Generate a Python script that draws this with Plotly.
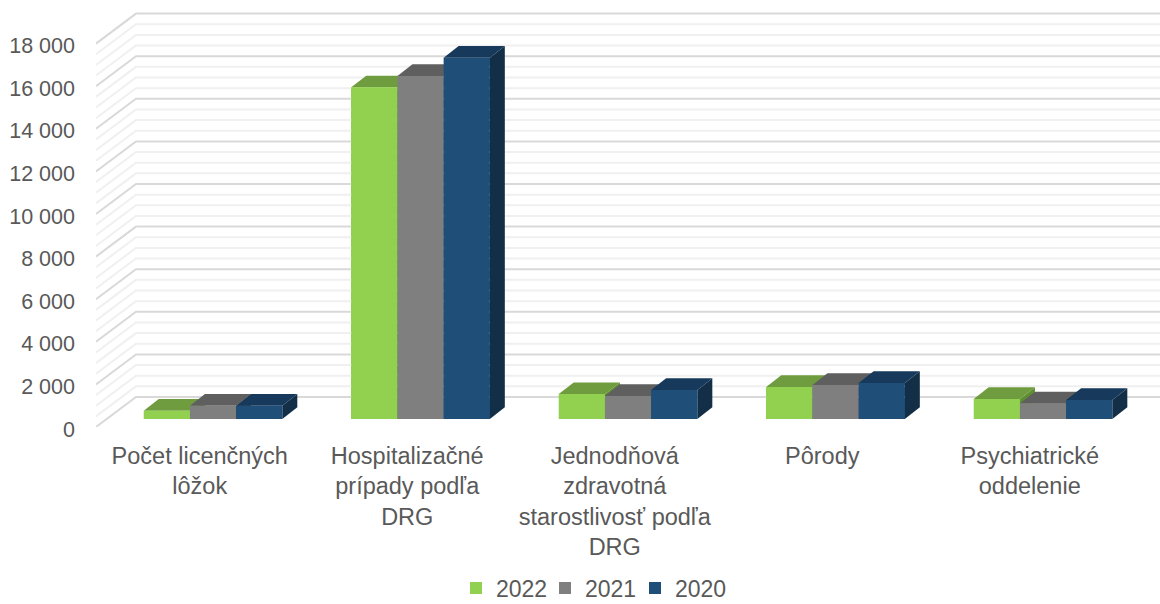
import plotly.graph_objects as go

categories = ["Počet licenčných<br>lôžok", "Hospitalizačné<br>prípady podľa<br>DRG",
              "Jednodňová<br>zdravotná<br>starostlivosť podľa<br>DRG", "Pôrody",
              "Psychiatrické<br>oddelenie"]
v2022 = [390, 15570, 1170, 1500, 940]
v2021 = [625, 16100, 1080, 1600, 735]
v2020 = [625, 16960, 1360, 1690, 890]
series_names = ["2022", "2021", "2020"]
y_major = [0, 2000, 4000, 6000, 8000, 10000, 12000, 14000, 16000, 18000]
y_labels = ["0", "2 000", "4 000", "6 000", "8 000", "10 000", "12 000", "14 000", "16 000", "18 000"]

W, H = 1160, 604
ML, MB = 96, 177
PX_PER_CAT = 207.5
PX_PER_VAL = 42.6 / 2000
PLOT_H = H - MB
X0, X1 = -0.5, -0.5 + (W - ML) / PX_PER_CAT
Y1 = PLOT_H / PX_PER_VAL

WALL_DX, WALL_DV = 40 / PX_PER_CAT, 30 / PX_PER_VAL
BAR_DX, BAR_DV = 15 / PX_PER_CAT, 11.7 / PX_PER_VAL
FLOOR = 8 / PX_PER_VAL
BAR_W = 46.2 / PX_PER_CAT
CENTER_SHIFT = 0.064

styles = [
    dict(front="#92D050", top="#6F9C3E", side="#5F8F30"),
    dict(front="#7F7F7F", top="#5F5F5F", side="#505050"),
    dict(front="#1F4E79", top="#17395B", side="#132F48"),
]
values = [v2022, v2021, v2020]
legend_ids = ["legend", "legend2", "legend3"]
legend_left_px = [456, 545, 635]

fig = go.Figure()


def grid(vals, color, width):
    xs, ys = [], []
    for v in vals:
        xs += [X0, X0 + WALL_DX, X1 + 1, None]
        ys += [v, v + WALL_DV, v + WALL_DV, None]
    fig.add_trace(go.Scatter(x=xs, y=ys, mode="lines", showlegend=False, hoverinfo="skip",
                             line=dict(color=color, width=width)))


minor = [m + k * 500 for m in y_major[:-1] for k in (1, 2, 3)]
grid(minor, "#F0F0F0", 2)
grid(y_major, "#D9D9D9", 2)

# real bars (front faces, legend)
for j, name in enumerate(series_names):
    fig.add_trace(go.Bar(
        x=[i + CENTER_SHIFT + (j - 1) * BAR_W for i in range(len(categories))],
        y=values[j], base=[FLOOR] * len(categories), width=BAR_W, name=name,
        legend=legend_ids[j], showlegend=True,
        marker=dict(color=styles[j]["front"], line=dict(width=0)),
        hoverinfo="skip"))


def poly(xs, ys, color):
    fig.add_trace(go.Scatter(x=xs + [xs[0]], y=ys + [ys[0]], mode="lines", fill="toself",
                             fillcolor=color, line=dict(width=0, color=color),
                             showlegend=False, hoverinfo="skip"))


# depth faces, painted left to right
for i in range(len(categories)):
    for j in range(3):
        v = values[j][i]
        xc = i + CENTER_SHIFT + (j - 1) * BAR_W
        xl, xr = xc - BAR_W / 2, xc + BAR_W / 2
        top = FLOOR + v
        poly([xr, xr + BAR_DX, xr + BAR_DX, xr],
             [FLOOR, FLOOR + BAR_DV, top + BAR_DV, top], styles[j]["side"])
        poly([xl, xl + BAR_DX, xr + BAR_DX, xr],
             [top, top + BAR_DV, top + BAR_DV, top], styles[j]["top"])
        poly([xl, xr, xr, xl], [FLOOR, FLOOR, top, top], styles[j]["front"])


def legend_at(left_px):
    return dict(orientation="h", x=(left_px - ML) / (W - ML), xanchor="left",
                y=(PLOT_H - 588) / PLOT_H, yanchor="middle",
                font=dict(size=23, color="#595959"), bgcolor="rgba(0,0,0,0)",
                itemclick=False, itemdoubleclick=False)


fig.update_layout(
    width=W, height=H, paper_bgcolor="white", plot_bgcolor="white",
    margin=dict(l=ML, r=0, t=0, b=MB, pad=0, autoexpand=False),
    font=dict(family="Liberation Sans, Arial, sans-serif", color="#595959"),
    bargap=0,
    showlegend=True,
    legend=legend_at(legend_left_px[0]),
    legend2=legend_at(legend_left_px[1]),
    legend3=legend_at(legend_left_px[2]),
    xaxis=dict(range=[X0, X1], tickmode="array", tickvals=list(range(len(categories))),
               ticktext=categories, tickangle=0, showgrid=False, zeroline=False,
               showline=False, ticks="", ticklabelstandoff=12,
               tickfont=dict(size=23.5, color="#595959")),
    yaxis=dict(range=[0, Y1], tickmode="array", tickvals=y_major, ticktext=y_labels,
               showgrid=False, zeroline=False, showline=False, ticks="",
               ticklabelstandoff=20, ticklabelshift=2,
               tickfont=dict(size=21.5, color="#595959")),
)

fig.write_html("out.html", config={"displayModeBar": False},
               post_script="document.body.style.margin='0';")
